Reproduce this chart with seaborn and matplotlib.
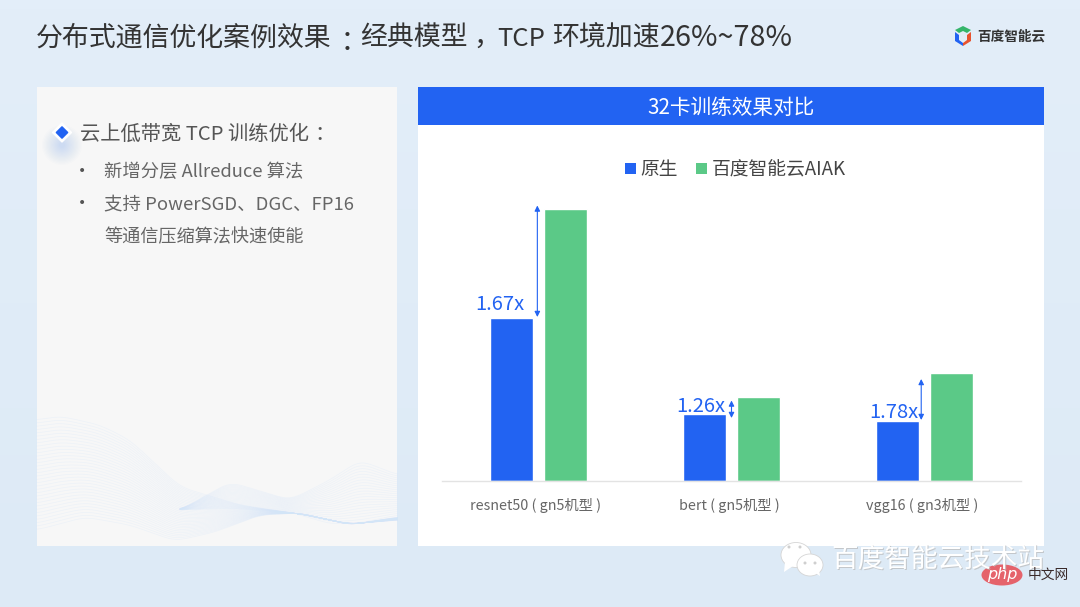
import numpy as np
import pandas as pd
import seaborn as sns
import matplotlib.pyplot as plt
from matplotlib.patches import Rectangle, Polygon, Ellipse
from matplotlib.transforms import ScaledTranslation

W, H = 1080, 607

models = ["resnet50 ( gn5机型 )", "bert ( gn5机型 )", "vgg16 ( gn3机型 )"]
baseline = [163, 67, 60]
aiak = [272, 84.5, 108]
speedups = ["1.67x", "1.26x", "1.78x"]
series_names = ["原生", "百度智能云AIAK"]

BLUE = "#2263F2"
GREEN = "#5BC987"
SC = ["Noto Sans CJK SC", "DejaVu Sans"]
TC = ["Noto Sans CJK TC", "DejaVu Sans"]

sns.set_theme(style="white")
plt.rcParams["font.family"] = SC

fig = plt.figure(figsize=(W / 100, H / 100), dpi=100)

# full figure layer in pixel coords, y pointing down
bg = fig.add_axes([0, 0, 1, 1], zorder=0)
top_col = np.array([0xE3, 0xEE, 0xF9]) / 255
bot_col = np.array([0xDD, 0xEA, 0xF6]) / 255
bg.imshow(np.linspace(top_col, bot_col, 64)[:, None, :], extent=[0, W, H, 0], aspect="auto", zorder=0)
bg.set_xlim(0, W)
bg.set_ylim(H, 0)
bg.axis("off")

bg.add_patch(Rectangle((37, 87), 360, 459, fc="#F7F7F7", ec="none", zorder=1))
bg.add_patch(Rectangle((418, 87), 626, 459, fc="white", ec="none", zorder=1))
bg.add_patch(Rectangle((418, 87), 626, 38, fc=BLUE, ec="none", zorder=2))


def smooth_curve(px, py, xs):
    ys = np.interp(xs, px, py)
    k = np.hanning(41)
    k = k / k.sum()
    return np.convolve(np.pad(ys, 20, mode="edge"), k, mode="valid")


# wave decoration in the left panel
xs = np.linspace(37, 397, 361)
upper = smooth_curve([37, 60, 100, 130, 180, 240, 300, 350, 397],
                     [420, 416, 425, 440, 487, 505, 514, 524, 520], xs)
lower = smooth_curve([37, 85, 130, 175, 215, 260, 300, 350, 397],
                     [530, 517, 525, 541, 532, 515, 513, 525, 517], xs)
for t in np.linspace(0, 1, 34):
    bg.plot(xs, upper + (lower - upper) * t, color="#D3E5F7", alpha=0.28, lw=0.5, zorder=1.5)
xs2 = np.linspace(180, 397, 220)
upper2 = smooth_curve([180, 230, 290, 330, 360, 397], [510, 482, 500, 480, 460, 475], xs2)
lower2 = smooth_curve([180, 230, 290, 330, 360, 397], [510, 508, 512, 524, 523, 515], xs2)
for t in np.linspace(0, 1, 22):
    bg.plot(xs2, upper2 + (lower2 - upper2) * t, color="#D3E5F7", alpha=0.28, lw=0.5, zorder=1.5)

# title is placed in pieces since latin and punctuation run wider than the cjk font
title_parts = [
    (36, 46, "分布式通信优化案例效果", 19.4, SC, "left"),
    (347, 51, "：", 19.4, TC, "center"),
    (360, 46, "经典模型", 19.4, SC, "left"),
    (480, 53, "，", 19.4, TC, "center"),
    (497, 46, "TCP", 18.5, SC, "left"),
    (552, 46, "环境加速", 19.4, SC, "left"),
    (660, 46, "26%~78%", 20.7, SC, "left"),
]
for x, y, s, size, fam, ha in title_parts:
    bg.text(x, y, s, fontsize=size, color="#333333", va="baseline", ha=ha, family=fam)

bg.text(731, 108, "32卡训练效果对比", fontsize=14.9, color="white", va="center", ha="center", zorder=3)

# logo
bg.add_patch(Polygon([[955, 30], [963, 26], [971, 30], [967, 33], [963, 31], [959, 33]], fc="#35B56A", ec="none", zorder=3))
bg.add_patch(Polygon([[955, 32], [959, 35], [959, 40], [963, 43], [963, 46], [955, 41]], fc="#2263F2", ec="none", zorder=3))
bg.add_patch(Polygon([[971, 32], [967, 35], [967, 40], [963, 43], [963, 46], [971, 41]], fc="#E8532F", ec="none", zorder=3))
bg.text(977, 37, "百度智能云", fontsize=9.8, color="#333333", va="center", ha="left", fontweight="bold", zorder=3)

# left panel text
for r in np.linspace(20, 3, 14):
    bg.add_patch(Ellipse((62, 145), r * 2, r * 2, fc=BLUE, alpha=0.012, ec="none", zorder=2))
bg.add_patch(Polygon([[62, 123], [71.5, 132.5], [62, 142], [52.5, 132.5]], fc="white", ec="white", lw=1, joinstyle="round", zorder=3))
bg.add_patch(Polygon([[62, 127], [67.5, 132.5], [62, 138], [56.5, 132.5]], fc=BLUE, ec=BLUE, lw=1.2, joinstyle="round", zorder=4))
bg.text(80, 134, "云上低带宽 TCP 训练优化", fontsize=14.6, color="#555555", va="center", zorder=3)
bg.text(320, 136, "：", fontsize=14.6, color="#555555", va="center", ha="center", family=TC, zorder=3)
bg.text(82, 171, "•", fontsize=10, color="#555555", va="center", ha="center", family="DejaVu Sans", zorder=3)
bg.text(104, 172, "新增分层 Allreduce 算法", fontsize=13.2, color="#666666", va="center", zorder=3)
bg.text(82, 203, "•", fontsize=10, color="#555555", va="center", ha="center", family="DejaVu Sans", zorder=3)
bg.text(104, 205, "支持 PowerSGD、DGC、FP16", fontsize=13.3, color="#666666", va="center", zorder=3)
bg.text(104, 237, "等通信压缩算法快速使能", fontsize=13.1, color="#666666", va="center", zorder=3)

# chart, axes set so that one y unit is one pixel
ax = fig.add_axes([442 / W, 1 - 481 / H, 579 / W, 300 / H], zorder=2)
ax.patch.set_alpha(0)
df = pd.DataFrame({
    "model": models * 2,
    "value": baseline + aiak,
    "series": [series_names[0]] * 3 + [series_names[1]] * 3,
})
sns.barplot(data=df, x="model", y="value", hue="series", palette=[BLUE, GREEN],
            width=0.56, gap=0.222, saturation=1, legend=False, ax=ax)
ax.set_xlim(-0.5, 2.5)
ax.set_ylim(0, 300)
ax.set_xlabel("")
ax.set_ylabel("")
ax.set_yticks([])
ax.tick_params(axis="x", length=0, pad=12, labelsize=10.3, labelcolor="#666666")
for label in ax.get_xticklabels():
    label.set_transform(label.get_transform() + ScaledTranslation(-2.5 / 100, 0, fig.dpi_scale_trans))
for s in ("top", "left", "right"):
    ax.spines[s].set_visible(False)
ax.spines["bottom"].set_color("#E3E3E3")
ax.spines["bottom"].set_linewidth(1)

# arrows and ratio labels, offsets are relative to each group's center
arrow_x = [-0.006, 0, -0.017]
arrow_top = [275.5, 80.5, 102]
arrow_bot = [164, 63, 61]
label_x = [-0.2, -0.158, -0.158]
label_y = [176, 74, 69]
for i in range(3):
    ax.annotate("", xy=(i + arrow_x[i], arrow_top[i]), xytext=(i + arrow_x[i], arrow_bot[i]),
                arrowprops=dict(arrowstyle="<|-|>", color=BLUE, lw=0.8, mutation_scale=8, shrinkA=0, shrinkB=0))
    ax.text(i + label_x[i], label_y[i], speedups[i], color=BLUE, fontsize=14.5, ha="center", va="center")

# legend
bg.add_patch(Rectangle((625, 163), 11, 11, fc=BLUE, ec="none", zorder=3))
bg.text(640, 170, series_names[0], fontsize=13.5, color="#444444", va="center", zorder=3)
bg.add_patch(Rectangle((696, 163), 11, 11, fc=GREEN, ec="none", zorder=3))
bg.text(712, 170, series_names[1], fontsize=13.5, color="#444444", va="center", zorder=3)

# watermark
top = fig.add_axes([0, 0, 1, 1], zorder=5)
top.set_xlim(0, W)
top.set_ylim(H, 0)
top.axis("off")
top.patch.set_alpha(0)
top.add_patch(Ellipse((796, 555), 30, 25, fc="white", ec="#D5D5D5", lw=0.6))
top.add_patch(Polygon([[785, 562], [784, 572], [793, 566]], fc="white", ec="none"))
top.add_patch(Ellipse((810, 565), 26, 22, fc="white", ec="#D5D5D5", lw=0.6))
top.add_patch(Polygon([[814, 572], [820, 576], [819, 570]], fc="white", ec="none"))
for ex, ey in [(789, 547), (800, 547), (805, 563), (815, 563)]:
    top.add_patch(Ellipse((ex, ey), 3, 3, fc="#CFCFCF", ec="none"))
top.text(832, 561, "百度智能云技术站", fontsize=19.2, color="#B9B9B9", alpha=0.7, va="center", ha="left")
top.text(831, 560, "百度智能云技术站", fontsize=19.2, color="white", va="center", ha="left")
top.add_patch(Ellipse((1002, 575), 41, 21, fc="#E5636B", ec="none"))
top.text(1002, 574, "php", fontsize=11.5, color="white", style="italic", va="center", ha="center", family="DejaVu Sans")
top.text(1048.5, 575, "中文网", fontsize=9.9, color="#3A2A2A", va="center", ha="center")

fig.savefig("out.png", dpi=100)
